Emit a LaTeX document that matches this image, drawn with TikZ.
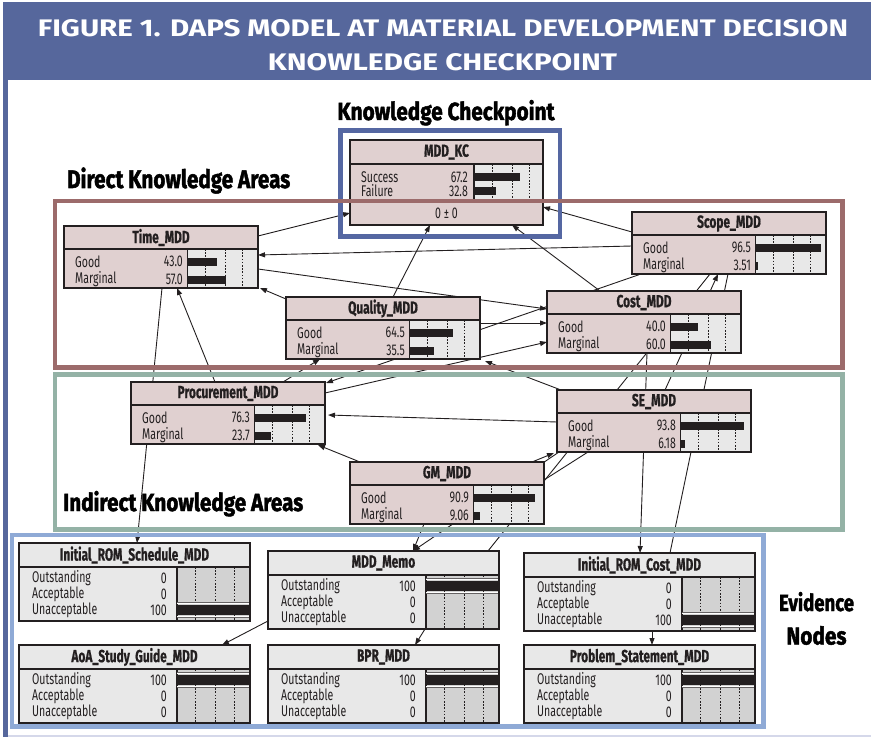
\documentclass[tikz,border=0pt]{standalone}
\usepackage{fontspec}
\setmainfont{Fira Sans}
\newfontfamily\cnd[FakeStretch=0.68]{Fira Sans}
\newfontfamily\heavy[FakeBold=2]{Fira Sans}
\newfontfamily\cndh[FakeStretch=0.68,FakeBold=0.8]{Fira Sans}
\usetikzlibrary{calc,arrows.meta}
\pgfdeclarelayer{back}
\pgfdeclarelayer{bg}
\pgfsetlayers{back,bg,main}
\definecolor{hdr}{HTML}{56679C}
\definecolor{kcblue}{HTML}{5567A2}
\definecolor{brownc}{HTML}{9C6B6B}
\definecolor{greenc}{HTML}{94B2A6}
\definecolor{evblue}{HTML}{8FAAD6}
\definecolor{pinkc}{HTML}{E0D0D0}
\definecolor{barbg}{HTML}{E8E8E8}
\definecolor{evbg}{HTML}{E8E8E8}
\definecolor{evbar}{HTML}{D2D2D2}
\definecolor{ink}{HTML}{231F20}
\definecolor{lav}{HTML}{D5D8EA}
\tikzset{
 nfill/.style={inner sep=0pt, outer sep=0pt, anchor=north west},
 conn/.style={draw=ink, line width=0.9pt},
 arr/.style={conn, -{Triangle[length=7pt,width=5pt]}},
 ttl/.style={font=\cndh\bfseries\fontsize{17.5}{17.5}\selectfont, text=ink, inner sep=0pt},
 lbl/.style={font=\cnd\fontsize{15.5}{15.5}\selectfont, text=ink, inner sep=0pt},
 dotl/.style={draw=ink, line width=0.7pt, dash pattern=on 1.6pt off 1.6pt},
 region/.style={line width=4.5pt},
 bigl/.style={inner sep=0pt, text=black},
}
\newcommand\twonode[6]{%
\begin{scope}[shift={(#2,#3)}]
 \node[nfill, fill=pinkc, minimum width=194pt, minimum height=62pt] (#1) at (0,0) {};
 \fill[barbg] (123.5,23) rectangle (194,62);
 \foreach \dx in {18,38,55} \draw[dotl] (123.5+\dx,23) -- (123.5+\dx,62);
 \draw[ink, line width=1.3pt] (0,23) -- (194,23) (123.5,23) -- (123.5,62);
 \node[ttl] at (97,11.5) {#4};
 \node[lbl, anchor=west] at (11,35.5) {Good};
 \node[lbl, anchor=east] at (119,35.5) {#5};
 \fill[ink] (123.5,32) rectangle ++({0.68*#5},8);
 \node[lbl, anchor=west] at (11,53) {Marginal};
 \node[lbl, anchor=east] at (119,53) {#6};
 \fill[ink] (123.5,50) rectangle ++({0.68*#6},8);
 \draw[ink, line width=2pt] (0,0) rectangle (194,62);
\end{scope}}
\newcommand\evrow[3]{%
 \node[lbl, anchor=west] at (13,#1) {#2};
 \node[lbl, anchor=east] at (148,#1) {#3};
 \ifnum#3=100\relax
  \fill[ink] (158,{#1-5}) rectangle (231,{#1+5});
  \draw[white, line width=0.7pt] (158,{#1-6.4}) -- (231,{#1-6.4}) (158,{#1+6.4}) -- (231,{#1+6.4});
  \draw[ink!70, line width=0.7pt] (158,{#1-7.8}) -- (231,{#1-7.8}) (158,{#1+7.8}) -- (231,{#1+7.8});
 \fi}
\newcommand\evnode[7]{%
\begin{scope}[shift={(#2,#3)}]
 \node[nfill, fill=evbg, minimum width=231pt, minimum height=78pt] (#1) at (0,0) {};
 \fill[evbar] (158,24) rectangle (231,78);
 \foreach \dx in {18,38,57} \draw[dotl] (158+\dx,24) -- (158+\dx,78);
 \draw[ink, line width=1.3pt] (0,24) -- (231,24) (158,24) -- (158,78);
 \node[ttl] at (115.5,12) {#4};
 \evrow{35}{Outstanding}{#5}
 \evrow{51}{Acceptable}{#6}
 \evrow{67}{Unacceptable}{#7}
 \draw[ink, line width=2pt] (0,0) rectangle (231,78);
\end{scope}}
\begin{document}
\begin{tikzpicture}[x=1pt,y=-1pt]
\useasboundingbox (0,0) rectangle (871,738);
\begin{pgfonlayer}{back}
\fill[white] (0,0) rectangle (871,738);
\end{pgfonlayer}
% frame and header
\fill[hdr] (3,2) rectangle (871,80);
\fill[hdr] (3,80) rectangle (8,737);
\draw[lav, line width=2pt] (8,736) -- (871,736);
\node[anchor=base, inner sep=0pt, text=white] (h1) at (443,37) {\resizebox{810pt}{17pt}{\bfseries FIGURE 1. DAPS MODEL AT MATERIAL DEVELOPMENT DECISION}};
\node[anchor=base, inner sep=0pt, text=white] (h2) at (442.5,71) {\resizebox{349pt}{17pt}{\bfseries KNOWLEDGE CHECKPOINT}};
% section labels
\node[bigl, anchor=base] (lkc) at (446,120) {\resizebox{217pt}{20pt}{\heavy\bfseries Knowledge Checkpoint}};
\node[bigl, anchor=base west] (ldir) at (67,188) {\resizebox{223pt}{20.5pt}{\heavy\bfseries Direct Knowledge Areas}};
\node[bigl, anchor=base west] (lind) at (63,511) {\resizebox{240pt}{20pt}{\heavy\bfseries Indirect Knowledge Areas}};
\node[bigl, anchor=base] (lev) at (816.5,611) {\resizebox{75pt}{19pt}{\heavy\bfseries Evidence}};
\node[bigl, anchor=base] (lno) at (816.5,644.5) {\resizebox{60pt}{18.5pt}{\heavy\bfseries Nodes}};
% MDD_KC node
\begin{scope}[shift={(350,140)}]
 \node[nfill, fill=pinkc, minimum width=193pt, minimum height=85pt] (kc) at (0,0) {};
 \fill[barbg] (124,24) rectangle (193,61);
 \foreach \dx in {18,38,55} \draw[dotl] (124+\dx,24) -- (124+\dx,61);
 \draw[ink, line width=1.3pt] (0,24) -- (193,24) (124,24) -- (124,61) (0,61) -- (193,61);
 \node[ttl] at (96.5,12) {MDD\_KC};
 \node[lbl, anchor=west] at (11,37) {Success};
 \node[lbl, anchor=east] at (118,37) {67.2};
 \fill[ink] (124,33) rectangle ++({0.68*67.2},8);
 \node[lbl, anchor=west] at (11,51) {Failure};
 \node[lbl, anchor=east] at (118,51) {32.8};
 \fill[ink] (124,47) rectangle ++({0.68*32.8},8);
 \node[lbl] at (96.5,73) {0 ± 0};
 \draw[ink, line width=2pt] (0,0) rectangle (193,85);
\end{scope}
\twonode{time}{64}{226}{Time\_MDD}{43.0}{57.0}
\twonode{scope}{632}{212}{Scope\_MDD}{96.5}{3.51}
\twonode{cost}{547}{291}{Cost\_MDD}{40.0}{60.0}
\twonode{quality}{286}{297}{Quality\_MDD}{64.5}{35.5}
\twonode{proc}{131}{382}{Procurement\_MDD}{76.3}{23.7}
\twonode{se}{557}{390}{SE\_MDD}{93.8}{6.18}
\twonode{gm}{350}{462}{GM\_MDD}{90.9}{9.06}
\evnode{irs}{19}{543}{Initial\_ROM\_Schedule\_MDD}{0}{0}{100}
\evnode{memo}{268}{551}{MDD\_Memo}{100}{0}{0}
\evnode{aoa}{19}{645}{AoA\_Study\_Guide\_MDD}{100}{0}{0}
\evnode{bpr}{268}{645}{BPR\_MDD}{100}{0}{0}
\evnode{irc}{524}{553}{Initial\_ROM\_Cost\_MDD}{0}{0}{100}
\evnode{ps}{524}{645}{Problem\_Statement\_MDD}{100}{0}{0}
% connectors
\begin{pgfonlayer}{bg}
\draw[arr] ($(time.north east)+(0,10)$) -- ($(kc.north west)+(0,73)$);
\draw[arr] ($(scope.north west)+(0,20)$) -- ($(kc.north east)+(0,67)$);
\draw[arr] ($(scope.north west)+(0,34)$) -- ($(time.north east)+(0,29)$);
\draw[arr] ($(time.north east)+(0,43)$) -- ($(cost.north west)+(0,18)$);
\draw[arr] ($(quality.north west)+(107,0)$) -- ($(kc.south west)+(80,0)$);
\draw[arr] ($(cost.north west)+(53,0)$) -- ($(kc.south west)+(162,0)$);
\draw[arr] ($(quality.north west)+(0,2)$) -- ($(time.south east)+(2,0)$);
\draw[arr] ($(scope.south west)+(9,0)$) -- ($(proc.north east)+(1,1)$);
\draw[arr] ($(proc.north east)+(0,11)$) -- ($(cost.north west)+(0,51)$);
\draw[arr] ($(quality.north east)+(0,26)$) -- ($(cost.north west)+(0,32)$);
\draw[arr] ($(proc.north west)+(152,0)$) -- ($(quality.south west)+(34,0)$);
\draw[arr] ($(se.north west)+(4,0)$) -- ($(quality.south east)+(5,2)$);
\draw[arr] ($(se.north west)+(0,32)$) -- ($(proc.north east)+(3,33)$);
\draw[arr] ($(gm.north west)+(10,0)$) -- ($(proc.south east)+(-7,1)$);
\draw[arr] ($(gm.north east)+(-12,0)$) -- ($(se.south west)+(-3,1)$);
\draw[arr] ($(proc.north west)+(84,0)$) -- ($(time.south west)+(113,0)$);
\draw[arr] ($(time.south west)+(98,0)$) -- ($(irs.north west)+(118,0)$);
\draw[arr] ($(cost.south west)+(100,0)$) -- ($(irc.north west)+(116,0)$);
\draw[conn] ($(scope.south west)+(96,0)$) -- ($(irc.north west)+(146,0)$);
\draw[arr] ($(se.north west)+(108,0)$) -- ($(scope.south west)+(86,0)$);
\draw[conn] ($(scope.south west)+(78,0)$) -- ($(memo.north east)+(-11,0)$);
\draw[conn] ($(gm.north east)+(0,18)$) -- ($(se.south west)+(31,0)$);
\draw[arr] ($(gm.south west)+(74,0)$) -- ($(memo.north west)+(145,0)$);
\draw[arr] ($(se.south west)+(2,0)$) -- ($(memo.north west)+(145,0)$);
\draw[arr] ($(memo.south west)+(0,-8)$) -- ($(aoa.north west)+(203,0)$);
\draw[arr] ($(memo.south west)+(157,0)$) -- ($(bpr.north west)+(147,0)$);
\draw[arr] ($(irc.south west)+(128,0)$) -- ($(ps.north west)+(128,0)$);
\end{pgfonlayer}
% region frames
\draw[kcblue, region] (340.5,130.5) rectangle (560,236.5);
\draw[brownc, region] (55,201) rectangle (842.5,367.5);
\draw[greenc, region] (55,374.5) rectangle (842.5,529.5);
\draw[evblue, region] (12,535) rectangle (763.5,726.5);
\end{tikzpicture}
\end{document}
